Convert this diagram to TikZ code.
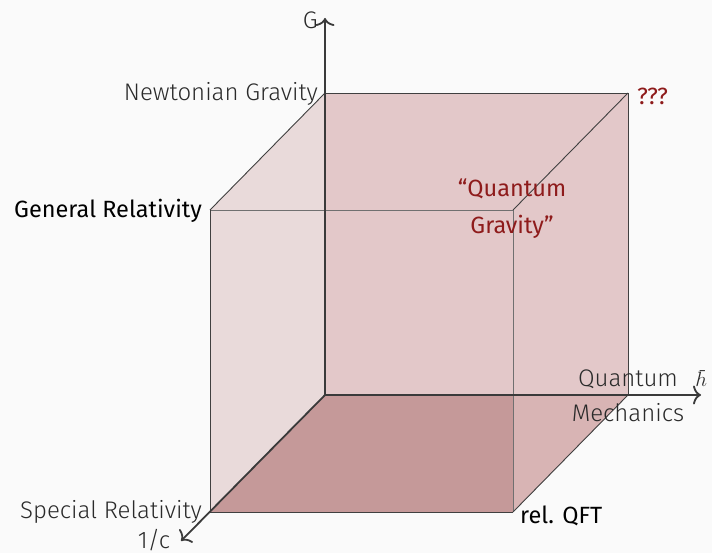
\documentclass[tikz,border=0pt]{standalone}
\usepackage{fontspec}
\usetikzlibrary{arrows.meta}
\setmainfont{Fira Sans}[UprightFont=* Light, BoldFont=*]
\newfontfamily\firareg{Fira Sans}
\definecolor{bgc}{HTML}{FAFAFA}
\definecolor{txt}{HTML}{2A2A2A}
\definecolor{qred}{HTML}{8E1B1B}
\definecolor{leftc}{HTML}{E9DADA}
\definecolor{backc}{HTML}{E3C8C9}
\definecolor{rightc}{HTML}{D8B4B4}
\definecolor{bottomc}{HTML}{C59999}
\definecolor{edgec}{HTML}{404040}
\definecolor{inedge}{HTML}{707070}
\definecolor{axisc}{HTML}{3A3A3A}

\begin{document}

\begin{tikzpicture}[x=1pt,y=-1pt,
  lbl/.style={inner sep=0pt,text=txt,font=\fontsize{24}{28}\selectfont},
  strong/.style={inner sep=0pt,text=black,font=\firareg\fontsize{23.5}{28}\selectfont},
  redlbl/.style={inner sep=0pt,text=qred,font=\firareg\fontsize{23.5}{37}\selectfont},
  edge/.style={draw=edgec,line width=0.9pt},
  inner/.style={draw=inedge,line width=0.9pt},
  axis/.style={draw=axisc,line width=1.8pt,-{To[length=8pt,width=19pt]}}]
\fill[bgc] (0,0) rectangle (712,553);
\useasboundingbox (0,0) rectangle (712,553);
\coordinate (O) at (325,395);
\coordinate (B1) at (628,395);
\coordinate (B2) at (628,93);
\coordinate (B3) at (325,93);
\coordinate (F0) at (210,512);
\coordinate (F1) at (513,512);
\coordinate (F2) at (513,210);
\coordinate (F3) at (210,210);
\coordinate (Gend) at (325,18);
\coordinate (Hend) at (701,395);
\coordinate (Cend) at (181,541);
\fill[leftc] (B3) -- (O) -- (F0) -- (F3) -- cycle;
\fill[bottomc] (O) -- (B1) -- (F1) -- (F0) -- cycle;
\fill[rightc] (B1) -- (B2) -- (F2) -- (F1) -- cycle;
\fill[backc] (O) -- (B1) -- (B2) -- (B3) -- cycle;
\draw[inner] (F3) -- (F2) -- (F1);
\draw[edge] (F3) -- (F0) -- (F1);
\draw[edge] (B3) -- (B2) -- (B1);
\draw[edge] (B3) -- (F3);
\draw[edge] (B2) -- (F2);
\draw[edge] (B1) -- (F1);
\draw[axis] (O) -- (Gend);
\draw[axis] (O) -- (Hend);
\draw[axis] (O) -- (Cend);
\node[lbl,anchor=east] (g) at (318,20) {G};
\node[lbl,anchor=east] (ng) at (318,94) {Newtonian Gravity};
\node[inner sep=0pt,text=qred,font=\firareg\fontsize{23.5}{28}\selectfont,anchor=west] (qqq) at (637,96) {???};
\node[strong,anchor=east] (gr) at (202,211) {General Relativity};
\node[redlbl,align=center] (qg) at (512,209) {“Quantum\\Gravity”};
\node[lbl,align=center,font=\fontsize{24}{35}\selectfont] (qm) at (628,396) {Quantum\\Mechanics};
\node[inner sep=0pt,text=txt,font=\fontsize{22}{25}\selectfont] (hb) at (703,379) {$\hbar$};
\node[lbl] (c) at (154,540) {1/c};
\node[lbl,anchor=east] (sr) at (202,512) {Special Relativity};
\node[strong,anchor=west] (qft) at (520,516) {rel. QFT};
\end{tikzpicture}

\end{document}
